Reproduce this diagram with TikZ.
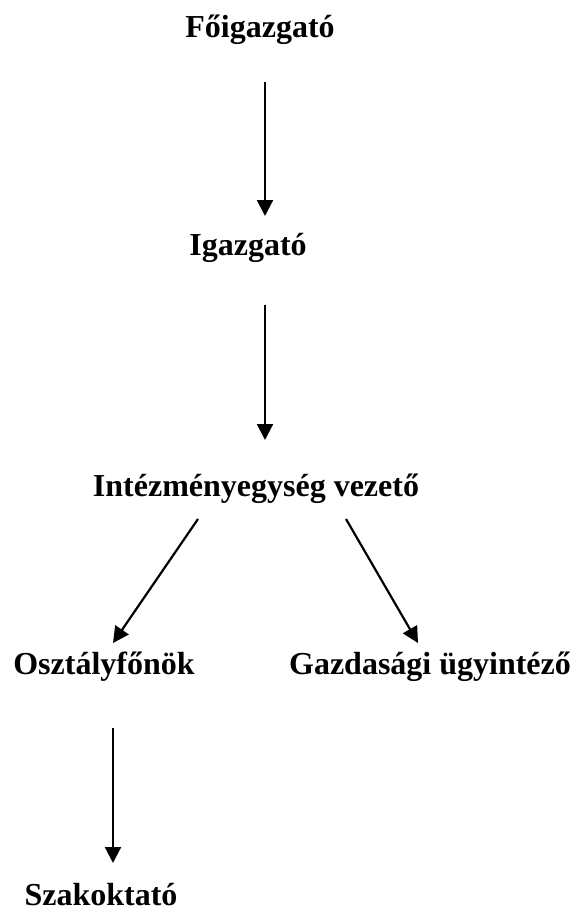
\documentclass[tikz,border=0pt]{standalone}
\usepackage{fontspec}
\setmainfont{Liberation Serif}
\usetikzlibrary{arrows.meta}
\begin{document}
\begin{tikzpicture}[x=1pt,y=-1pt,
  lbl/.style={inner sep=0pt,anchor=base,font=\fontsize{32}{38}\selectfont\bfseries},
  conn/.style={line width=2.2pt,-{Triangle[width=16pt,length=16pt]}}]
\useasboundingbox (0,0) rectangle (579,913);
\node[lbl] (fo) at (260,37) {Főigazgató};
\node[lbl] (ig) at (248,255) {Igazgató};
\node[lbl] (ie) at (256,496) {Intézményegység vezető};
\node[lbl] (osz) at (104,674) {Osztályfőnök};
\node[lbl] (gaz) at (430,674) {Gazdasági ügyintéző};
\node[lbl] (sz) at (101,905) {Szakoktató};
\coordinate (a1s) at (265,82);  \coordinate (a1e) at (265,216);
\coordinate (a2s) at (265,305); \coordinate (a2e) at (265,440);
\coordinate (a3s) at (198,519); \coordinate (a3e) at (113,643);
\coordinate (a4s) at (346,519); \coordinate (a4e) at (418,643);
\coordinate (a5s) at (113,728); \coordinate (a5e) at (113,863);
\draw[conn] (a1s) -- (a1e);
\draw[conn] (a2s) -- (a2e);
\draw[conn] (a3s) -- (a3e);
\draw[conn] (a4s) -- (a4e);
\draw[conn] (a5s) -- (a5e);
\end{tikzpicture}
\end{document}
